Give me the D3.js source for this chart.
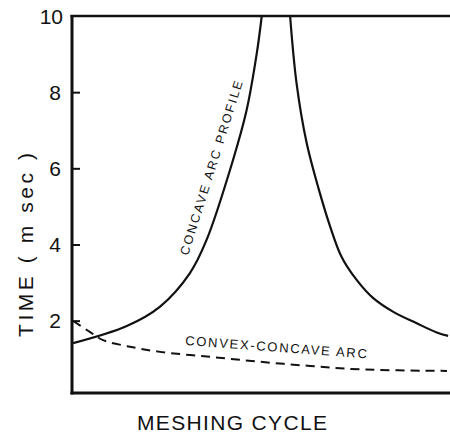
<!DOCTYPE html>
<html>
<head>
<meta charset="utf-8">
<script src="https://cdn.jsdelivr.net/npm/d3@7"></script>
<style>
  body { margin: 0; background: #fff; }
  svg { display: block; }
  text { font-family: "Liberation Sans", "DejaVu Sans", sans-serif; fill: #111; }
</style>
</head>
<body>
<div id="container"></div>
<script>
// meshing cycle position (0..1) and time in msec
const concaveX = [0.003, 0.145, 0.233, 0.312, 0.356, 0.426, 0.462, 0.489, 0.502, null,
  0.577, 0.594, 0.621, 0.661, 0.683, 0.713, 0.753, 0.797, 0.850, 0.912, 0.965, 0.995];
const concaveT = [1.41, 1.86, 2.37, 3.25, 4.12, 6.22, 7.53, 9.03, 10.0, null,
  10.0, 8.24, 6.66, 5.17, 4.47, 3.68, 3.07, 2.59, 2.23, 1.93, 1.69, 1.60];

const convexX = [0.003, 0.048, 0.082, 0.146, 0.233, 0.365, 0.497, 0.630, 0.762, 0.992];
const convexT = [1.99, 1.70, 1.49, 1.33, 1.18, 1.05, 0.92, 0.81, 0.72, 0.68];

const yTicks = [2, 4, 6, 8, 10];
const yLabel = "TIME ( m sec )";
const xLabel = "MESHING CYCLE";
const concaveLabel = "CONCAVE ARC PROFILE";
const convexLabel = "CONVEX-CONCAVE ARC";

const width = 450;
const height = 435;
const margin = { top: 16, right: 0, bottom: 42, left: 72 };

const svg = d3.select("#container").
append("svg").
attr("width", width).
attr("height", height);

const x = d3.scaleLinear().
domain([0, 1]).
range([margin.left, width - margin.right]);

const y = d3.scaleLinear().
domain([0.1, 10]).
range([height - margin.bottom, margin.top]);

// frame: left axis, bottom axis, top line
const yAxis = d3.axisRight(y).
tickValues(yTicks.filter(d => d < 10)).
tickSize(8).
tickFormat("");

svg.append("g").
attr("transform", `translate(${margin.left},0)`).
call(yAxis).
call(g => g.select(".domain").remove()).
call(g => g.selectAll(".tick line").attr("stroke", "#111").attr("stroke-width", 2));

svg.append("line").
attr("x1", x(0)).attr("x2", x(0)).
attr("y1", y(10) - 1).attr("y2", y(0.1) + 1.5).
attr("stroke", "#111").attr("stroke-width", 3);

svg.append("line").
attr("x1", x(0) - 1.5).attr("x2", x(1)).
attr("y1", y(0.1)).attr("y2", y(0.1)).
attr("stroke", "#111").attr("stroke-width", 3);

svg.append("line").
attr("x1", x(0) - 1.5).attr("x2", x(1)).
attr("y1", y(10)).attr("y2", y(10)).
attr("stroke", "#111").attr("stroke-width", 2.5);

// tick labels
svg.append("g").
selectAll("text").
data(yTicks).
join("text").
attr("x", d => d === 10 ? margin.left - 9 : margin.left - 11).
attr("y", d => y(d)).
attr("dy", "0.36em").
attr("text-anchor", "end").
style("font-size", "21px").
text(d => d);

// curves
const line = d3.line().
defined(d => d[0] !== null).
x(d => x(d[0])).
y(d => y(d[1])).
curve(d3.curveCatmullRom.alpha(0.5));

svg.append("path").
datum(concaveX.map((v, i) => [v, concaveT[i]])).
attr("fill", "none").
attr("stroke", "#111").
attr("stroke-width", 2.2).
attr("d", line);

svg.append("path").
datum(convexX.map((v, i) => [v, convexT[i]])).
attr("fill", "none").
attr("stroke", "#111").
attr("stroke-width", 2).
attr("stroke-dasharray", "9,6").
attr("d", line);

// curve labels
svg.append("text").
attr("transform", "translate(188,256) rotate(-72.5)").
attr("textLength", 182).
attr("lengthAdjust", "spacing").
style("font-size", "12.5px").
text(concaveLabel);

svg.append("text").
attr("transform", "translate(185,345) rotate(4.2)").
attr("textLength", 182).
attr("lengthAdjust", "spacing").
style("font-size", "13px").
text(convexLabel);

// axis titles
svg.append("text").
attr("transform", "translate(33,245) rotate(-90)").
attr("text-anchor", "middle").
attr("textLength", 184).
attr("lengthAdjust", "spacing").
style("font-size", "21px").
text(yLabel);

svg.append("text").
attr("x", 137).
attr("y", 430).
attr("textLength", 190).
attr("lengthAdjust", "spacing").
style("font-size", "21px").
text(xLabel);
</script>
</body>
</html>
